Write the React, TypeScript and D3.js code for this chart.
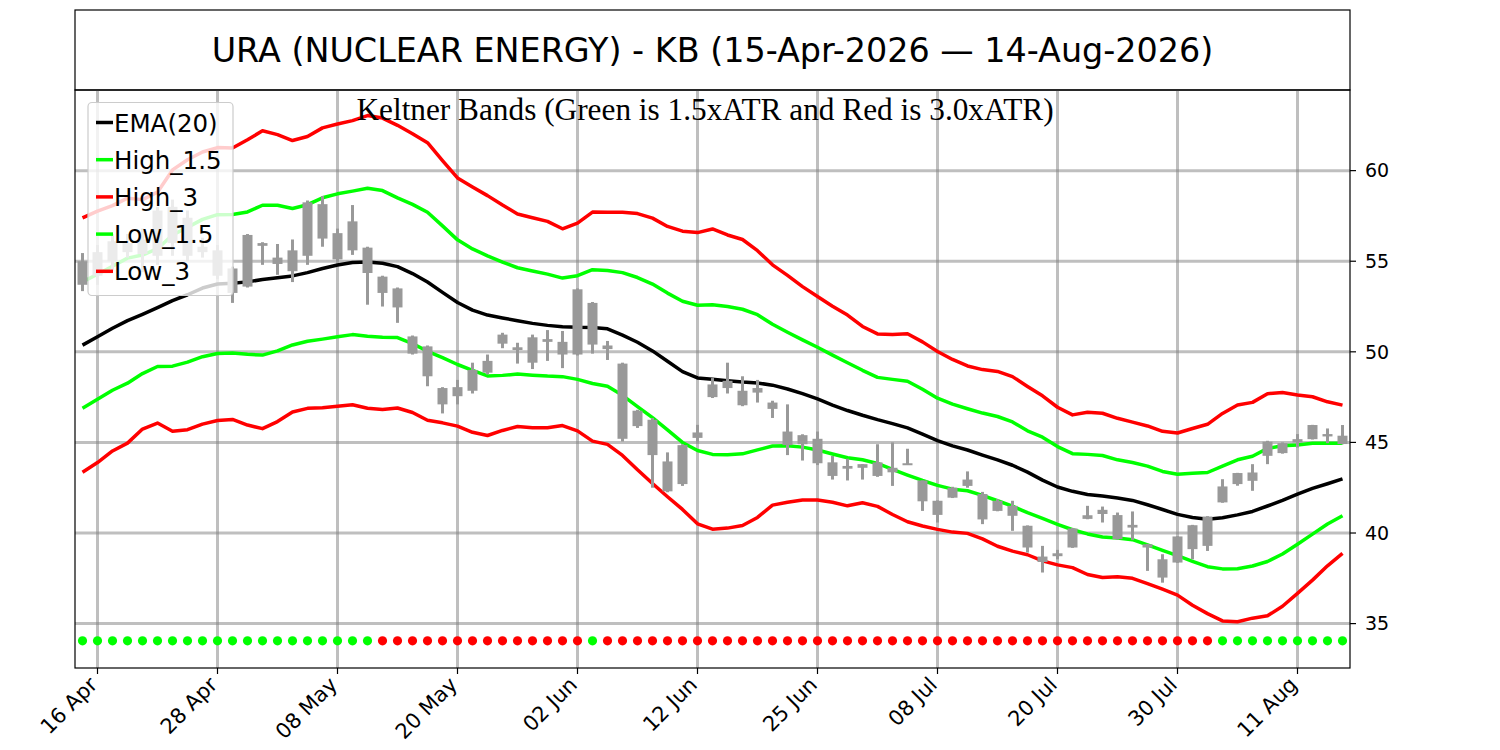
import React from 'react';
import * as d3 from 'd3';

// ---------------- data ----------------
const titleText = 'URA (NUCLEAR ENERGY) - KB (15-Apr-2026 \u2014 14-Aug-2026)';
const subtitleText = 'Keltner Bands (Green is 1.5xATR and Red is 3.0xATR)';

const tickIdx = [1, 9, 17, 25, 33, 41, 49, 57, 65, 73, 81];
const tickLabels = ['16 Apr', '28 Apr', '08 May', '20 May', '02 Jun', '12 Jun', '25 Jun', '08 Jul', '20 Jul', '30 Jul', '11 Aug'];
const yTicks = [35, 40, 45, 50, 55, 60];

const openP = [53.7,54.2,55.0,56.0,55.4,55.3,56.0,57.4,55.5,55.6,
  54.6,53.6,56.0,54.85,54.45,55.3,58.15,55.1,55.6,55.75,
  54.15,53.5,50.85,50.3,47.1,47.55,47.85,48.85,50.45,50.1,
  49.4,50.55,49.85,49.85,52.7,50.35,49.35,45.9,46.25,42.3,
  42.7,45.25,47.5,48.0,47.85,47.75,47.2,45.6,45.4,43.85,
  43.9,43.55,43.8,43.15,43.35,43.85,42.9,41.78,41.95,42.6,
  42.15,41.22,40.95,40.4,38.4,38.72,39.2,40.78,41.05,40.99,
  40.3,39.38,38.55,38.37,39.11,39.29,41.69,43.31,42.88,44.26,
  44.96,45.0,45.18,45.46,44.91];
const highP = [55.45,55.9,56.5,56.5,56.8,58.0,58.4,57.8,56.3,55.9,
  54.7,56.5,56.05,55.95,56.2,58.35,58.6,56.8,58.1,55.8,
  54.2,53.55,50.9,50.35,48.05,48.45,49.4,49.85,51.05,50.5,
  50.95,51.2,51.15,53.5,52.75,50.6,49.4,46.8,46.35,44.45,
  44.9,45.97,48.55,49.4,48.65,48.45,47.3,47.1,45.45,45.6,
  44.25,44.1,43.8,44.9,45.0,44.65,42.9,41.8,42.55,43.4,
  42.27,41.87,41.78,40.42,39.29,39.07,40.28,41.5,41.46,41.13,
  41.19,39.4,38.83,39.82,40.45,40.93,42.97,43.32,43.8,45.09,
  45.0,45.46,45.97,45.77,45.96];
const lowP = [53.35,53.7,54.5,55.2,54.4,54.8,55.3,55.0,55.2,54.0,
  52.7,53.55,54.8,54.25,53.85,54.8,55.8,55.0,55.35,52.6,
  52.5,51.6,49.85,48.1,46.6,47.1,47.7,48.75,50.2,49.35,
  49.05,49.5,49.1,49.8,49.9,49.55,45.05,45.8,42.5,42.25,
  42.6,45.0,47.45,47.7,47.0,47.2,46.35,44.3,44.0,43.75,
  42.95,42.9,42.95,43.1,42.6,43.8,41.22,40.58,41.93,42.5,
  40.49,41.2,40.12,38.92,37.82,38.55,39.18,40.76,40.58,39.64,
  39.62,37.91,37.26,38.35,38.55,39.01,41.67,42.61,42.33,43.8,
  44.38,44.72,45.16,44.96,44.9];
const closeP = [55.0,55.5,56.1,55.5,56.2,57.8,58.0,55.3,55.8,54.2,
  53.25,56.45,55.85,55.2,55.6,58.25,56.25,56.55,57.2,54.35,
  53.25,52.45,49.9,48.65,48.0,48.05,49.0,49.5,50.95,50.25,
  50.8,50.7,50.55,53.45,50.4,50.15,45.2,46.75,44.3,43.95,
  44.85,45.55,48.2,48.4,47.05,48.0,46.85,44.85,44.9,45.2,
  43.15,43.7,43.6,43.9,43.6,43.8,41.75,41.0,42.5,42.95,
  40.75,41.78,41.5,39.2,38.7,38.88,40.25,40.98,41.28,39.66,
  40.45,39.2,37.54,39.81,40.43,40.91,42.57,42.7,43.34,45.04,
  44.41,45.18,45.96,45.33,45.37];

const ema20 = [50.37,50.83,51.30,51.72,52.07,52.44,52.83,53.15,53.52,53.74,
  53.78,53.86,53.99,54.09,54.19,54.37,54.60,54.79,54.93,54.96,
  54.89,54.70,54.32,53.85,53.28,52.72,52.30,52.03,51.87,51.72,
  51.57,51.46,51.38,51.35,51.34,51.27,50.92,50.53,50.05,49.48,
  48.91,48.56,48.48,48.40,48.33,48.28,48.16,47.95,47.69,47.40,
  47.06,46.76,46.50,46.26,46.04,45.80,45.46,45.10,44.81,44.58,
  44.30,44.04,43.74,43.36,42.92,42.54,42.30,42.13,42.04,41.93,
  41.80,41.56,41.30,41.03,40.86,40.76,40.84,41.00,41.19,41.49,
  41.80,42.14,42.46,42.72,42.99];
const high15 = [53.86,54.28,54.72,55.17,55.34,55.69,56.45,56.87,57.31,57.57,
  57.58,57.72,58.09,58.09,57.91,58.12,58.50,58.72,58.87,59.03,
  58.90,58.50,58.14,57.70,56.95,56.18,55.68,55.30,54.95,54.64,
  54.46,54.29,54.07,54.20,54.53,54.49,54.37,54.10,53.74,53.24,
  52.79,52.57,52.60,52.50,52.35,52.05,51.52,51.08,50.66,50.25,
  49.82,49.40,48.98,48.59,48.48,48.38,47.93,47.44,47.11,46.86,
  46.62,46.43,46.13,45.64,45.29,44.77,44.38,44.34,44.28,44.04,
  43.89,43.69,43.40,43.24,43.30,43.34,43.69,44.04,44.24,44.67,
  44.82,44.86,44.96,44.96,44.96];
const high3 = [57.39,57.77,58.07,58.48,58.40,58.81,60.04,60.60,61.03,61.27,
  61.25,61.70,62.20,61.99,61.66,61.88,62.36,62.57,62.76,63.04,
  62.90,62.50,62.04,61.54,60.55,59.60,59.10,58.62,58.10,57.61,
  57.40,57.20,56.79,57.10,57.71,57.70,57.70,57.63,57.38,56.92,
  56.66,56.58,56.78,56.45,56.20,55.58,54.80,54.22,53.60,53.05,
  52.52,52.03,51.40,50.99,50.95,51.00,50.55,50.02,49.58,49.22,
  49.02,48.92,48.63,48.09,47.57,46.94,46.52,46.66,46.61,46.33,
  46.12,45.91,45.61,45.52,45.77,46.00,46.60,47.06,47.21,47.69,
  47.75,47.62,47.52,47.24,47.06];
const low15 = [46.88,47.38,47.88,48.27,48.80,49.19,49.21,49.43,49.73,49.91,
  49.94,49.86,49.82,50.05,50.38,50.58,50.70,50.83,50.95,50.86,
  50.81,50.79,50.45,50.03,49.68,49.30,48.98,48.67,48.70,48.77,
  48.71,48.66,48.63,48.48,48.25,48.10,47.60,46.98,46.37,45.69,
  45.00,44.55,44.34,44.32,44.37,44.59,44.80,44.81,44.74,44.58,
  44.36,44.15,44.04,43.84,43.51,43.20,42.90,42.63,42.42,42.33,
  42.08,41.78,41.48,41.12,40.81,40.48,40.18,39.95,39.78,39.72,
  39.63,39.35,39.04,38.75,38.44,38.14,38.02,38.03,38.18,38.43,
  38.84,39.38,39.94,40.50,40.95];
const low3 = [43.35,43.89,44.53,44.96,45.74,46.07,45.62,45.70,46.01,46.21,
  46.27,45.96,45.76,46.15,46.68,46.88,46.91,47.00,47.08,46.89,
  46.82,46.90,46.65,46.22,46.08,45.90,45.56,45.38,45.66,45.88,
  45.81,45.81,45.93,45.64,45.07,44.89,44.28,43.49,42.73,42.00,
  41.30,40.51,40.21,40.27,40.41,40.86,41.54,41.70,41.82,41.82,
  41.70,41.50,41.67,41.47,41.02,40.62,40.39,40.20,40.05,39.98,
  39.68,39.27,39.00,38.80,38.46,38.24,38.09,37.71,37.54,37.58,
  37.50,37.21,36.90,36.57,36.01,35.55,35.15,35.10,35.30,35.43,
  35.96,36.67,37.40,38.19,38.88];

// squeeze-state dots: 1 = green, 0 = red
const dotState = [1,1,1,1,1,1,1,1,1,1, 1,1,1,1,1,1,1,1,1,1,
  0,0,0,0,0,0,0,0,0,0, 0,0,0,0,1,0,0,0,0,0,
  0,0,0,0,0,0,0,0,0,0, 0,0,0,0,0,0,0,0,0,0,
  0,0,0,0,0,0,0,0,0,0, 0,0,0,0,0,0,1,1,1,1,
  1,1,1,1,1];
const dotLevel = 34.05;

const seriesDefs = [
  { name: 'EMA(20)', data: ema20, color: '#000000' },
  { name: 'High_1.5', data: high15, color: '#00ff00' },
  { name: 'High_3', data: high3, color: '#ff0000' },
  { name: 'Low_1.5', data: low15, color: '#00ff00' },
  { name: 'Low_3', data: low3, color: '#ff0000' },
];

// ---------------- layout ----------------
const PL = 75, PR = 1350, PT = 90, PB = 668;

export default function App() {
  const x = d3.scaleLinear().domain([-0.5, 84.5]).range([PL, PR]);
  const y = d3.scaleLinear().domain([32.55, 64.45]).range([PB, PT]);
  const lineGen = d3.line<number>().x((_, i) => x(i)).y((d) => y(d));
  const n = closeP.length;
  const bodyW = 10;
  const wickW = 3;
  const candleColor = '#999999';
  const gridColor = '#808080';
  const sans = 'DejaVu Sans, sans-serif';

  return (
    <svg width={1500} height={750} style={{ position: 'absolute', left: 0, top: 0, background: '#fff' }}
      xmlns="http://www.w3.org/2000/svg">
      <rect x={0} y={0} width={1500} height={750} fill="#ffffff" />
      {/* title box */}
      <rect x={PL} y={10} width={PR - PL} height={PT - 10} fill="none" stroke="#000" strokeWidth={1.2} />
      <text x={(PL + PR) / 2} y={62} textAnchor="middle" fontFamily={sans} fontSize={33.4} fill="#000">{titleText}</text>

      <defs>
        <clipPath id="plotclip"><rect x={PL} y={PT} width={PR - PL} height={PB - PT} /></clipPath>
      </defs>

      {/* grid */}
      <g>
        {yTicks.map((t) => (
          <line key={'gy' + t} x1={PL} x2={PR} y1={y(t)} y2={y(t)} stroke={gridColor} strokeOpacity={0.5} strokeWidth={3} />
        ))}
        {tickIdx.map((t) => (
          <line key={'gx' + t} x1={x(t)} x2={x(t)} y1={PT} y2={PB} stroke={gridColor} strokeOpacity={0.5} strokeWidth={3} />
        ))}
      </g>

      {/* band lines */}
      <g clipPath="url(#plotclip)">
        {seriesDefs.map((s) => (
          <path key={s.name} d={lineGen(s.data) || ''} fill="none" stroke={s.color} strokeWidth={3.5} strokeLinejoin="round" />
        ))}
      </g>

      {/* candles */}
      <g>
        {d3.range(n).map((i) => {
          const o = openP[i], c = closeP[i];
          const top = y(Math.max(o, c));
          const bot = y(Math.min(o, c));
          return (
            <g key={'c' + i}>
              <rect x={x(i) - wickW / 2} y={y(highP[i])} width={wickW} height={y(lowP[i]) - y(highP[i])} fill={candleColor} />
              <rect x={x(i) - bodyW / 2} y={top} width={bodyW} height={Math.max(2, bot - top)} fill={candleColor} />
            </g>
          );
        })}
      </g>

      {/* dots */}
      <g>
        {dotState.map((s, i) => (
          <circle key={'d' + i} cx={x(i)} cy={y(dotLevel)} r={4.6} fill={s ? '#00ff00' : '#ff0000'} />
        ))}
      </g>

      {/* subtitle */}
      <text x={705} y={119.5} textAnchor="middle" fontFamily="Liberation Serif, Times New Roman, serif" fontSize={31.3} fill="#000">{subtitleText}</text>

      {/* legend */}
      <g>
        <rect x={88} y={102.5} width={145} height={193} rx={4} ry={4} fill="#ffffff" fillOpacity={0.8} stroke="#cccccc" strokeWidth={1.2} />
        {seriesDefs.map((s, k) => (
          <g key={'lg' + s.name}>
            <line x1={96} x2={113} y1={122.5 + k * 37.2} y2={122.5 + k * 37.2} stroke={s.color} strokeWidth={3.5} />
            <text x={114} y={131.5 + k * 37.2} fontFamily={sans} fontSize={24.5} fill="#000">{s.name}</text>
          </g>
        ))}
      </g>

      {/* axes frame */}
      <rect x={PL} y={PT} width={PR - PL} height={PB - PT} fill="none" stroke="#000" strokeWidth={1.2} />

      {/* right y axis */}
      <g>
        {yTicks.map((t) => (
          <g key={'yt' + t}>
            <line x1={PR} x2={PR + 6} y1={y(t)} y2={y(t)} stroke="#000" strokeWidth={1.2} />
            <text x={PR + 15} y={y(t)} dy="0.36em" fontFamily={sans} fontSize={19} fill="#000">{t}</text>
          </g>
        ))}
      </g>

      {/* bottom x axis */}
      <g>
        {tickIdx.map((t, k) => (
          <g key={'xt' + t}>
            <line x1={x(t)} x2={x(t)} y1={PB} y2={PB + 6} stroke="#000" strokeWidth={1.2} />
            <text transform={`translate(${x(t) + 1},${PB + 18}) rotate(-45)`} textAnchor="end"
              fontFamily={sans} fontSize={21} fill="#000">{tickLabels[k]}</text>
          </g>
        ))}
      </g>
    </svg>
  );
}
